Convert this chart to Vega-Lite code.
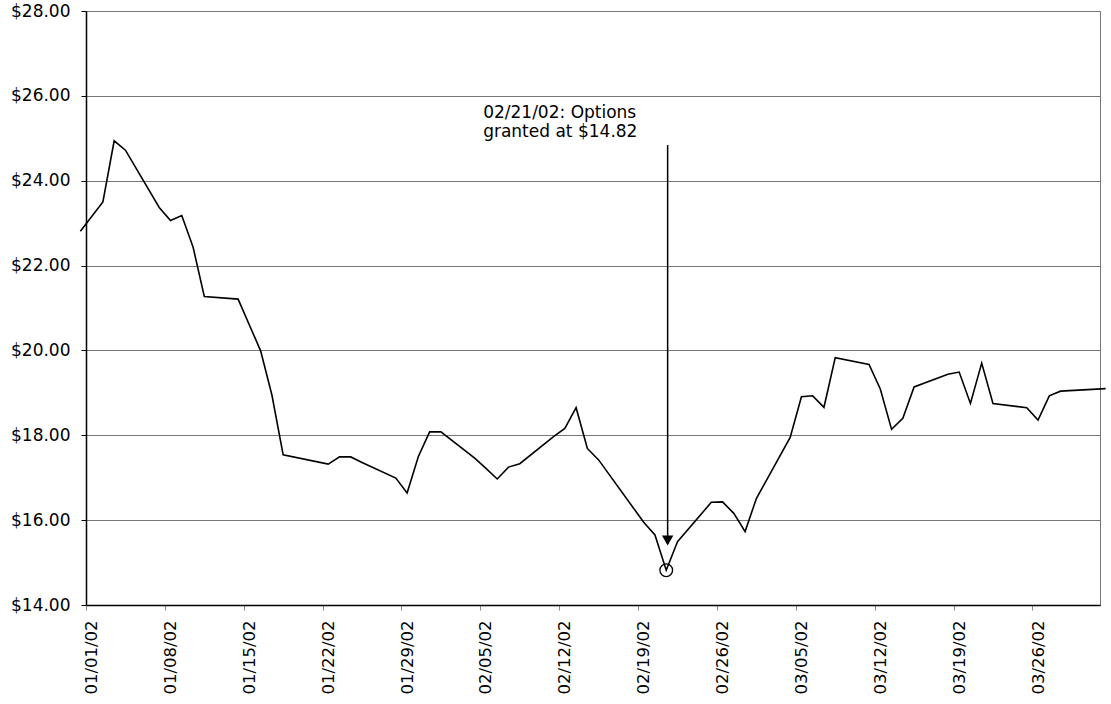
{
  "$schema": "https://vega.github.io/schema/vega-lite/v6.json",
  "width": 1014,
  "height": 594,
  "autosize": {"type": "none"},
  "padding": {"left": 86, "top": 11, "right": 11, "bottom": 99},
  "background": "white",
  "config": {
    "view": {"stroke": "#777", "strokeWidth": 1},
    "font": "DejaVu Sans",
    "axis": {"labelFont": "DejaVu Sans", "labelColor": "black"}
  },
  "datasets": {
    "prices": [
      {"date": "2001-12-31T12:00", "price": 22.81},
      {"date": "2002-01-02T12:00", "price": 23.50},
      {"date": "2002-01-03T12:00", "price": 24.94},
      {"date": "2002-01-04T12:00", "price": 24.72},
      {"date": "2002-01-07T12:00", "price": 23.37},
      {"date": "2002-01-08T12:00", "price": 23.06},
      {"date": "2002-01-09T12:00", "price": 23.18},
      {"date": "2002-01-10T12:00", "price": 22.44},
      {"date": "2002-01-11T12:00", "price": 21.27},
      {"date": "2002-01-14T12:00", "price": 21.21},
      {"date": "2002-01-15T12:00", "price": 20.60},
      {"date": "2002-01-16T12:00", "price": 19.99},
      {"date": "2002-01-17T12:00", "price": 18.95},
      {"date": "2002-01-18T12:00", "price": 17.54},
      {"date": "2002-01-22T12:00", "price": 17.32},
      {"date": "2002-01-23T12:00", "price": 17.49},
      {"date": "2002-01-24T12:00", "price": 17.49},
      {"date": "2002-01-25T12:00", "price": 17.36},
      {"date": "2002-01-28T12:00", "price": 16.99},
      {"date": "2002-01-29T12:00", "price": 16.64},
      {"date": "2002-01-30T12:00", "price": 17.50},
      {"date": "2002-01-31T12:00", "price": 18.08},
      {"date": "2002-02-01T12:00", "price": 18.08},
      {"date": "2002-02-04T12:00", "price": 17.46},
      {"date": "2002-02-05T12:00", "price": 17.22},
      {"date": "2002-02-06T12:00", "price": 16.97},
      {"date": "2002-02-07T12:00", "price": 17.25},
      {"date": "2002-02-08T12:00", "price": 17.33},
      {"date": "2002-02-11T12:00", "price": 17.97},
      {"date": "2002-02-12T12:00", "price": 18.16},
      {"date": "2002-02-13T12:00", "price": 18.65},
      {"date": "2002-02-14T12:00", "price": 17.69},
      {"date": "2002-02-15T12:00", "price": 17.42},
      {"date": "2002-02-19T12:00", "price": 15.95},
      {"date": "2002-02-20T12:00", "price": 15.65},
      {"date": "2002-02-21T12:00", "price": 14.82},
      {"date": "2002-02-22T12:00", "price": 15.49},
      {"date": "2002-02-25T12:00", "price": 16.42},
      {"date": "2002-02-26T12:00", "price": 16.43},
      {"date": "2002-02-27T12:00", "price": 16.16},
      {"date": "2002-02-28T12:00", "price": 15.73},
      {"date": "2002-03-01T12:00", "price": 16.51},
      {"date": "2002-03-04T12:00", "price": 17.95},
      {"date": "2002-03-05T12:00", "price": 18.91},
      {"date": "2002-03-06T12:00", "price": 18.93},
      {"date": "2002-03-07T12:00", "price": 18.66},
      {"date": "2002-03-08T12:00", "price": 19.83},
      {"date": "2002-03-11T12:00", "price": 19.67},
      {"date": "2002-03-12T12:00", "price": 19.09},
      {"date": "2002-03-13T12:00", "price": 18.14},
      {"date": "2002-03-14T12:00", "price": 18.40},
      {"date": "2002-03-15T12:00", "price": 19.14},
      {"date": "2002-03-18T12:00", "price": 19.44},
      {"date": "2002-03-19T12:00", "price": 19.49},
      {"date": "2002-03-20T12:00", "price": 18.75},
      {"date": "2002-03-21T12:00", "price": 19.70},
      {"date": "2002-03-22T12:00", "price": 18.75},
      {"date": "2002-03-25T12:00", "price": 18.65},
      {"date": "2002-03-26T12:00", "price": 18.36},
      {"date": "2002-03-27T12:00", "price": 18.93},
      {"date": "2002-03-28T12:00", "price": 19.04},
      {"date": "2002-04-01T12:00", "price": 19.10}
    ],
    "marker": [{"date": "2002-02-21T12:00", "price": 14.82}],
    "arrow": [{"date": "2002-02-21T15:00", "top": 24.84, "tip": 15.45, "head": 15.52}],
    "note": [{"date": "2002-02-05T06:00", "price": 25.47, "label": "02/21/02: Options\ngranted at $14.82"}]
  },
  "layer": [
    {
      "data": {"name": "prices"},
      "mark": {"type": "line", "color": "black", "strokeWidth": 1.6, "clip": false},
      "encoding": {
        "x": {
          "field": "date", "type": "temporal",
          "scale": {"domain": [{"year": 2002, "month": 1, "date": 1}, {"year": 2002, "month": 4, "date": 1}], "nice": false},
          "axis": {
            "title": null,
            "grid": false,
            "values": [
              {"year": 2002, "month": 1, "date": 1},
              {"year": 2002, "month": 1, "date": 8},
              {"year": 2002, "month": 1, "date": 15},
              {"year": 2002, "month": 1, "date": 22},
              {"year": 2002, "month": 1, "date": 29},
              {"year": 2002, "month": 2, "date": 5},
              {"year": 2002, "month": 2, "date": 12},
              {"year": 2002, "month": 2, "date": 19},
              {"year": 2002, "month": 2, "date": 26},
              {"year": 2002, "month": 3, "date": 5},
              {"year": 2002, "month": 3, "date": 12},
              {"year": 2002, "month": 3, "date": 19},
              {"year": 2002, "month": 3, "date": 26}
            ],
            "format": "%m/%d/%y",
            "labelAngle": -90,
            "labelFontSize": 16.5,
            "labelPadding": 10,
            "labelOffset": 5.6,
            "labelOverlap": false,
            "labelFlush": false,
            "tickSize": 5,
            "tickColor": "#888",
            "domainColor": "black",
            "domainWidth": 1.5
          }
        },
        "y": {
          "field": "price", "type": "quantitative",
          "scale": {"domain": [14, 28], "nice": false, "zero": false},
          "axis": {
            "title": null,
            "values": [14, 16, 18, 20, 22, 24, 26, 28],
            "format": "$.2f",
            "labelFontSize": 17,
            "labelPadding": 11,
            "tickSize": 5,
            "tickColor": "black",
            "domainColor": "black",
            "domainWidth": 1.5,
            "grid": true,
            "gridColor": "#777",
            "gridWidth": 1
          }
        }
      }
    },
    {
      "data": {"name": "marker"},
      "mark": {"type": "point", "shape": "circle", "size": 160, "filled": false, "color": "black", "strokeWidth": 1.3, "opacity": 1},
      "encoding": {
        "x": {"field": "date", "type": "temporal"},
        "y": {"field": "price", "type": "quantitative"}
      }
    },
    {
      "data": {"name": "arrow"},
      "mark": {"type": "rule", "color": "black", "strokeWidth": 1.5},
      "encoding": {
        "x": {"field": "date", "type": "temporal"},
        "y": {"field": "top", "type": "quantitative"},
        "y2": {"field": "tip"}
      }
    },
    {
      "data": {"name": "arrow"},
      "mark": {"type": "point", "shape": "triangle-down", "size": 130, "filled": true, "color": "black", "opacity": 1},
      "encoding": {
        "x": {"field": "date", "type": "temporal"},
        "y": {"field": "head", "type": "quantitative"}
      }
    },
    {
      "data": {"name": "note"},
      "mark": {"type": "text", "align": "left", "baseline": "alphabetic", "fontSize": 17, "font": "DejaVu Sans", "lineBreak": "\n", "lineHeight": 19, "color": "black"},
      "encoding": {
        "x": {"field": "date", "type": "temporal"},
        "y": {"field": "price", "type": "quantitative"},
        "text": {"field": "label"}
      }
    }
  ]
}
